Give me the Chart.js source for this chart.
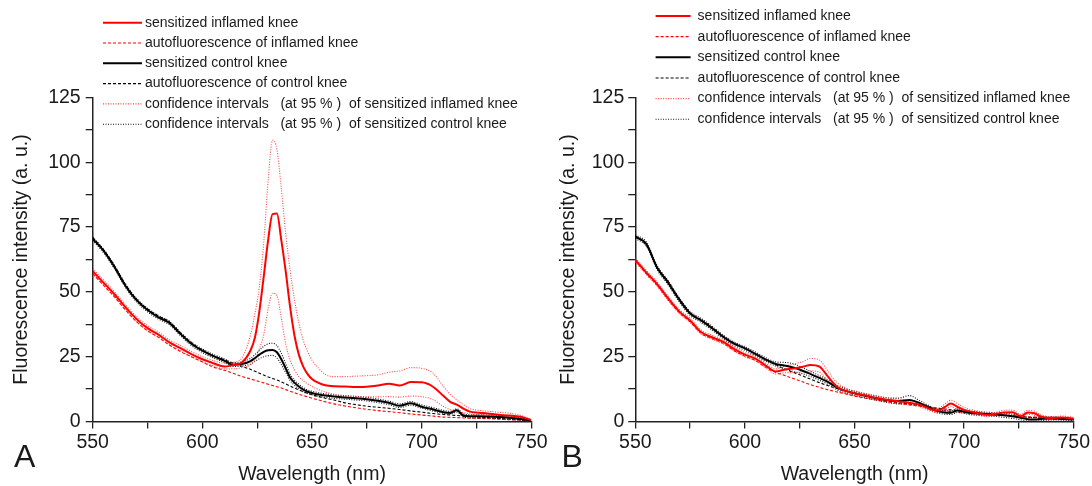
<!DOCTYPE html>
<html><head><meta charset="utf-8">
<script src="https://cdn.jsdelivr.net/npm/chart.js@4.4.1/dist/chart.umd.min.js"></script>
<style>
html,body{margin:0;padding:0;background:#fff;}
#wrap{position:relative;width:1092px;height:486px;overflow:hidden;background:#fff;}
#cA{position:absolute;left:0;top:0;width:560px;height:486px;}
#cB{position:absolute;left:546px;top:0;width:546px;height:486px;}
</style></head><body>
<div id="wrap"><canvas id="cA" width="560" height="486"></canvas><canvas id="cB" width="546" height="486"></canvas></div>
<script>
// ---------- data ----------
const xTickValues = [550,575,600,625,650,675,700,725,750];
const xTickLabels = ['550','','600','','650','','700','','750'];
const yTickValues = [0,12.5,25,37.5,50,62.5,75,87.5,100,112.5,125];
const yTickLabels = ['0','','25','','50','','75','','100','','125'];
const xTitle = 'Wavelength (nm)';
const yTitle = 'Fluorescence intensity (a. u.)';
const legendLabels = [
  'sensitized inflamed knee',
  'autofluorescence of inflamed knee',
  'sensitized control knee',
  'autofluorescence of control knee',
  'confidence intervals   (at 95 % )  of sensitized inflamed knee',
  'confidence intervals   (at 95 % )  of sensitized control knee'
];

// Panel A
const wavelengthA = [550,555,560,565,570,575,580,585,590,595,600,605,610,614,618,622,624,626,628,630,632,634,636,638,640,642,644,646,648,650,653,656,660,665,670,675,680,685,690,695,700,705,710,713,716,719,722,726,730,735,740,745,750];
const inflamedA = [58,53.5,49,44,39.5,36,33.5,30.5,28.3,26,24,22.5,21.2,21.8,22.8,27.5,32.5,42.5,56,70,80,80.2,70,58,44.3,33.2,25.8,21.2,18.3,16.4,14.9,14,13.6,13.5,13.3,13.4,13.9,14.6,13.9,15.2,15.1,13.5,9.8,7.6,6.5,5,3.8,3.4,3.1,2.6,2.3,1.8,0.6];
const inflamedUpperA = [59,54.5,50,45,40.5,37,34.5,31.5,29.3,27,25,23.5,22.5,22.8,24.5,33.5,41.7,52,69,93,108.5,105,90,72.5,58.5,47,38,31.4,27,23.6,20.5,18.2,17.3,17.3,17.5,17.7,18,19,19.5,20.8,20.5,18.8,13.5,10.5,8.3,6.5,5,4.3,4,3.6,3.2,2.4,0.8];
const inflamedLowerA = [57,52.5,48,43,38.5,35,32.5,29.5,27.3,25,23,21.5,20.3,20.3,20.8,21.8,23.8,28,33.5,43.5,49.5,48.5,40,30,23.7,20,17.3,15.7,14.5,13.5,12.3,11.4,10.5,9.6,9.5,9.5,9.5,9.6,9.4,9.8,9.6,8.5,5.8,4.6,3.9,3.4,3,2.6,2.5,2,1.6,1.2,0.3];
const inflamedAutoA = [57,52.5,48,43,38.5,35,32.5,29.5,27,25,23,21,19.8,18.6,17.4,16.4,15.9,15.4,14.9,14.4,13.9,13.4,12.9,12.3,11.7,11.1,10.5,10,9.5,9,8.3,7.6,6.8,6,5.3,4.7,4.2,3.8,3.4,2.9,2.5,2.1,1.7,1.6,1.5,1.4,1.3,1.2,1.1,0.9,0.7,0.5,0.2];
const controlA = [70.5,65.8,59.5,52.3,46.8,43,40.2,38,33.8,30,27.3,25.2,23.5,21.9,22.2,23.3,24.5,25.8,26.9,27.5,27.6,26.7,24,20.5,17,15,13.5,12.3,11.5,11,10.4,10,9.6,9.3,9,8.6,8,7.2,6.1,7,5.7,4.7,3.6,3.3,4.3,2.3,2,2,1.9,1.7,1.4,1,0.3];
const controlUpperA = [71.2,66.5,60.2,53,47.5,43.7,40.9,38.7,34.5,30.7,28,25.9,24.2,22.6,23,24.4,25.8,27.5,29,30,30.2,29.3,26.3,22.3,18.3,16,14.4,13.1,12.2,11.7,11.1,10.7,10.3,10,9.7,9.3,8.7,7.9,6.8,7.7,6.4,5.4,4.3,3.9,4.9,3,2.6,2.6,2.5,2.3,2,1.5,0.6];
const controlLowerA = [69.8,65.1,58.8,51.6,46.1,42.3,39.5,37.3,33.1,29.3,26.6,24.5,22.8,21.2,21.4,22.2,23.2,24.2,25,25.4,25.5,24.5,22,18.9,15.8,14,12.6,11.5,10.8,10.3,9.7,9.3,8.9,8.6,8.3,7.9,7.3,6.5,5.4,6.3,5.1,4.1,3.1,2.8,3.6,1.9,1.4,1.4,1.3,1.1,0.8,0.5,0];
const controlAutoA = [71,66.2,60,52.8,47.2,43.4,40.7,38.4,34.2,30.4,27.6,25.5,23.8,22.6,21.3,20.1,19.4,18.6,17.9,17.2,16.6,16,15.3,14.5,13.7,12.9,12.2,11.5,10.9,10.3,9.6,9,8.3,7.2,6.5,5.9,5.5,5.1,4.6,4.1,3.6,3.1,2.7,2.5,2.3,2.1,1.9,1.7,1.5,1.2,0.9,0.7,0.3];

// Panel B
const wavelengthB = [550,555,560,565,570,575,580,585,590,595,600,605,610,614,618,622,626,630,634,638,642,646,650,655,660,665,670,675,680,685,688,691,694,697,700,703,706,710,714,718,722,726,729,732,735,740,745,750];
const inflamedB = [62.3,57.5,53,47.5,42.5,39,34.5,32.5,30.8,28,25.8,24.2,21.3,19.3,20,20.4,21,21.8,21.2,17.2,13.4,11.8,10.9,10,9.1,8.3,7.8,7.2,6.4,4.6,4.2,5.5,6.9,5.6,4.5,3.8,3.3,2.6,2.8,3.5,3.6,2,3.5,3.2,1.9,1.3,1.5,1.1];
const inflamedUpperB = [63,58.3,53.8,48.3,43.3,39.8,35.3,33.3,31.6,28.8,26.6,25,22.2,20.3,21.3,22.1,23,24.3,23.7,19.3,15,12.9,11.8,10.8,9.9,9.1,8.6,8,7.2,5.4,5.1,6.6,8.2,6.8,5.5,4.6,4.1,3.3,3.5,4.3,4.4,2.7,4.3,4,2.6,1.9,2.1,1.6];
const inflamedLowerB = [61.6,56.7,52.2,46.7,41.7,38.2,33.7,31.7,30,27.2,25,23.4,20.4,18.3,18.8,18.9,19.2,19.5,19,15.4,12,10.8,10,9.2,8.3,7.5,7,6.4,5.6,3.9,3.4,4.5,5.7,4.5,3.6,3,2.5,1.9,2.1,2.7,2.8,1.3,2.7,2.4,1.2,0.7,0.9,0.6];
const inflamedAutoB = [62,57,52.5,47,42,38.5,34,32,30.2,27.4,25.2,23.4,20.6,19,17.8,16.6,15.4,14.2,13.2,12.2,11.4,10.6,9.8,9,8.3,7.6,7,6.4,5.9,5.3,4.8,4.2,3.9,3.7,3.4,3.2,3,2.7,2.5,2.3,2.1,1.9,1.8,1.7,1.6,1.3,1,0.8];
const controlB = [71.3,68.5,59.3,53.5,47,41.7,39,36,32.7,30,28.2,26,23.7,22.2,21.6,20.8,19.7,18.3,16.8,15.2,13.2,11.8,10.9,9.9,9,8.2,7.9,8.3,7,5,4,3.5,3.4,4.2,3.8,3.3,3.1,2.9,2.7,2.4,2,1.4,0.9,0.8,1,1.2,1,0.8];
const controlUpperB = [72,69.3,60.1,54.3,47.8,42.5,39.8,36.8,33.4,30.7,28.9,26.7,24.4,23,22.8,22.3,20.9,19.3,17.7,16.1,14,12.6,11.7,10.7,9.8,9.1,9,10,7.9,5.7,4.7,4.2,4.1,4.9,4.5,4,3.8,3.6,3.4,3.2,2.8,2.2,1.6,1.5,1.7,1.8,1.5,1.2];
const controlLowerB = [70.6,67.7,58.5,52.7,46.2,40.9,38.2,35.2,32,29.3,27.5,25.3,23,21.4,20.4,19.3,18.5,17.3,15.9,14.3,12.4,11,10.1,9.1,8.2,7.3,6.8,6.9,6.1,4.3,3.3,2.8,2.7,3.5,3.1,2.6,2.4,2.2,2,1.6,1.2,0.6,0.2,0.1,0.3,0.6,0.5,0.4];
const controlAutoB = [71.5,68,59.5,54,47.5,42,39.3,36.3,33,30.3,28.3,26,23.8,22,20.3,19,17.7,16.3,15,13.8,12.7,11.7,10.8,9.8,8.9,8,7.3,6.7,6.1,5.5,5.1,4.8,4.5,4.2,3.9,3.6,3.4,3.1,2.8,2.5,2.2,1.9,1.7,1.5,1.4,1.1,0.9,0.7];

// ---------- styles ----------
const FONT = '"Liberation Sans", Arial, Helvetica, sans-serif';
const TXT = '#1a1a1a';
const STY = {
  inflamed:     {borderColor:'#ff0000', borderWidth:2, borderDash:[]},
  inflamedAuto: {borderColor:'#ff0000', borderWidth:1.1, borderDash:[3,2]},
  control:      {borderColor:'#000000', borderWidth:2, borderDash:[]},
  controlAuto:  {borderColor:'#000000', borderWidth:1.1, borderDash:[3,2]},
  inflamedCI:   {borderColor:'rgba(255,40,40,0.85)', borderWidth:1.1, borderDash:[1,1.5]},
  controlCI:    {borderColor:'#111111', borderWidth:1.1, borderDash:[1,1.5]}
};
const legendKeys = ['inflamed','inflamedAuto','control','controlAuto','inflamedCI','controlCI'];

function pts(wl, vals){ return wl.map((w,i)=>({x:w, y:vals[i]})); }
function ds(label, wl, vals, key){
  return Object.assign({label, data:pts(wl, vals), pointRadius:0, fill:false,
    tension:0.4, cubicInterpolationMode:'monotone'}, STY[key]);
}

const panelDeco = {
  id:'panelDeco',
  afterDraw(chart, args, o){
    const ctx = chart.ctx;
    ctx.save();
    legendKeys.forEach((k,i)=>{
      const s = STY[k]; const y = o.y0 + i*o.dy;
      ctx.beginPath();
      ctx.strokeStyle = s.borderColor; ctx.lineWidth = s.borderWidth; ctx.setLineDash(s.borderDash);
      ctx.moveTo(o.x1, y); ctx.lineTo(o.x2, y); ctx.stroke();
      ctx.setLineDash([]);
      ctx.fillStyle = TXT; ctx.font = '14px ' + FONT;
      ctx.textBaseline = 'middle'; ctx.textAlign = 'left';
      ctx.fillText(legendLabels[i], o.tx, y);
    });
    ctx.font = '32px ' + FONT; ctx.textBaseline = 'alphabetic'; ctx.textAlign = 'left'; ctx.fillStyle = TXT;
    ctx.fillText(o.letter, o.lx, o.ly);
    ctx.restore();
  }
};

function makePanel(canvasId, wl, s, geo){
  const datasets = [
    ds(legendLabels[0], wl, s.inflamed, 'inflamed'),
    ds(legendLabels[2], wl, s.control, 'control'),
    ds(legendLabels[4], wl, s.inflamedUpper, 'inflamedCI'),
    ds(legendLabels[4], wl, s.inflamedLower, 'inflamedCI'),
    ds(legendLabels[5], wl, s.controlUpper, 'controlCI'),
    ds(legendLabels[5], wl, s.controlLower, 'controlCI'),
    ds(legendLabels[1], wl, s.inflamedAuto, 'inflamedAuto'),
    ds(legendLabels[3], wl, s.controlAuto, 'controlAuto')
  ];
  const gridOpt = {display:true, drawOnChartArea:false, drawTicks:true, tickLength:7, color:'#222', lineWidth:1.3};
  const borderOpt = {display:true, color:'#222', width:1.5};
  return new Chart(document.getElementById(canvasId), {
    type:'line',
    data:{datasets},
    options:{
      responsive:false, animation:false, events:[],
      layout:{padding:{left:0, right:geo.pr, top:97.5, bottom:0}},
      plugins:{legend:{display:false}, tooltip:{enabled:false}, panelDeco:geo.deco},
      scales:{
        x:{type:'linear', min:550, max:750,
          afterBuildTicks:(sc)=>{ sc.ticks = xTickValues.map(v=>({value:v})); },
          afterFit:(sc)=>{ sc.height = geo.xh; },
          ticks:{autoSkip:false, maxRotation:0, padding:2, color:TXT, font:{family:FONT, size:19.5},
            callback:(v,i)=>xTickLabels[i]},
          grid:gridOpt, border:borderOpt,
          title:{display:true, text:xTitle, color:TXT, font:{family:FONT, size:19.5}, padding:{top:0,bottom:0}}
        },
        y:{type:'linear', min:0, max:125,
          afterBuildTicks:(sc)=>{ sc.ticks = yTickValues.map(v=>({value:v})); },
          afterFit:(sc)=>{ sc.width = geo.yw; },
          ticks:{autoSkip:false, padding:geo.yp, color:TXT, font:{family:FONT, size:19.5},
            callback:(v,i)=>yTickLabels[i]},
          grid:gridOpt, border:borderOpt,
          title:{display:true, text:yTitle, color:TXT, font:{family:FONT, size:19.5}, padding:{top:geo.ytp,bottom:0}}
        }
      }
    },
    plugins:[panelDeco]
  });
}

makePanel('cA', wavelengthA, {
  inflamed:inflamedA, inflamedUpper:inflamedUpperA, inflamedLower:inflamedLowerA, inflamedAuto:inflamedAutoA,
  control:controlA, controlUpper:controlUpperA, controlLower:controlLowerA, controlAuto:controlAutoA
}, {pr:28.7, xh:64.5, yw:92.7, yp:5, ytp:10,
    deco:{x1:103, x2:142, tx:145, y0:22.7, dy:20.3, letter:'A', lx:14, ly:467}});

makePanel('cB', wavelengthB, {
  inflamed:inflamedB, inflamedUpper:inflamedUpperB, inflamedLower:inflamedLowerB, inflamedAuto:inflamedAutoB,
  control:controlB, controlUpper:controlUpperB, controlLower:controlLowerB, controlAuto:controlAutoB
}, {pr:17.4, xh:64.5, yw:89.3, yp:4, ytp:10.6,
    deco:{x1:109.6, x2:144.6, tx:151.6, y0:16, dy:20.66, letter:'B', lx:15.5, ly:467}});
</script>
</body></html>
